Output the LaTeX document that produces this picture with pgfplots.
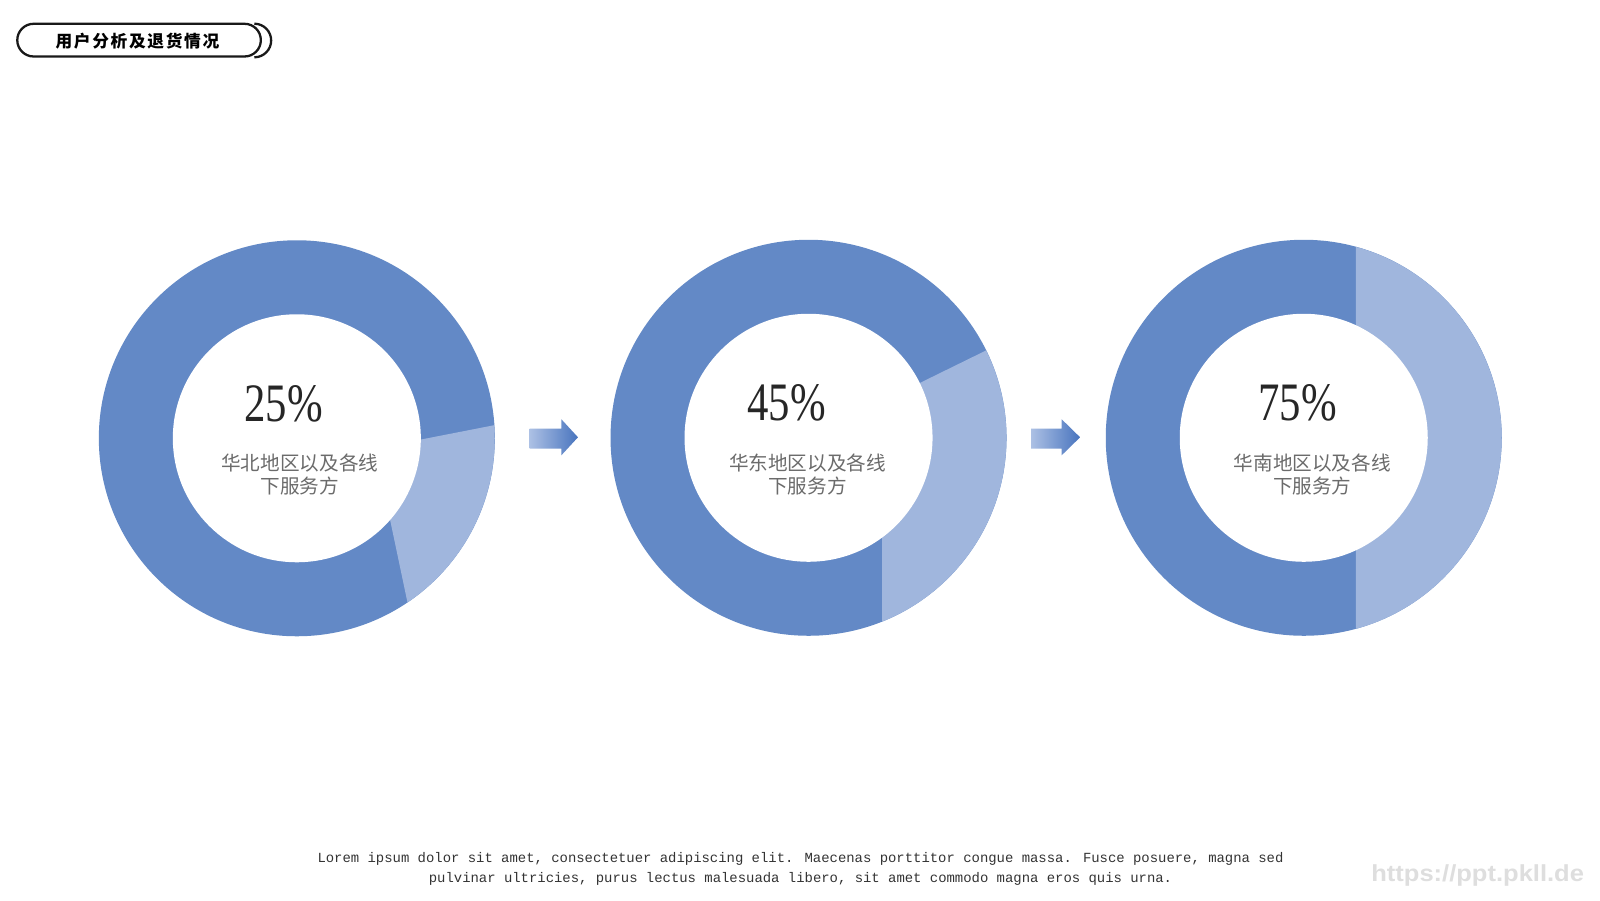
\documentclass[border=0pt]{standalone}
\usepackage{pgfplots}
\pgfplotsset{compat=1.18}
\usepackage{graphicx}
\usepackage{fontspec}
\setmainfont{Liberation Serif}
\newfontfamily\cjk{Noto Sans CJK SC}
\newfontfamily\cjktitle{Noto Sans CJK SC}[LetterSpace=10]
\newfontfamily\mono{Liberation Mono}
\newfontfamily\wm{Liberation Sans}
\definecolor{darkblue}{RGB}{99,137,198}
\definecolor{lightblue}{RGB}{160,182,221}
\definecolor{arrowL}{RGB}{172,192,228}
\definecolor{arrowR}{RGB}{72,116,190}
\begin{document}
\begin{tikzpicture}
\fill[white] (0,0) rectangle (16cm,9cm);
\begin{axis}[at={(0,0)}, anchor=south west, x=0.01cm, y=0.01cm,
  xmin=0, xmax=1600, ymin=0, ymax=900, hide axis, clip=false]
% ---- donut 1 (25%) ----
\fill[darkblue] (axis cs:297,462) circle[radius=1.98cm];
\fill[lightblue] (axis cs:397,456) -- (axis cs:494.6,475.1)
   arc[start angle=3.8, end angle=-56, radius=1.98cm] -- (axis cs:385.3,404.2) -- cycle;
\fill[white] (axis cs:297,462) circle[radius=1.24cm];
% ---- donut 2 (45%) ----
\fill[darkblue] (axis cs:809,462.5) circle[radius=1.98cm];
\fill[lightblue] (axis cs:898.7,506.7) -- (axis cs:986.7,549.9)
   arc[start angle=26.2, end angle=-68.2, radius=1.98cm] -- (axis cs:882.5,382.5) -- cycle;
\fill[white] (axis cs:809,462.5) circle[radius=1.24cm];
% ---- donut 3 (75%) ----
\fill[darkblue] (axis cs:1304.5,462.5) circle[radius=1.98cm];
\fill[lightblue] (axis cs:1356.7,562.5) -- (axis cs:1356.7,653.5)
   arc[start angle=74.7, end angle=-74.7, radius=1.98cm] -- (axis cs:1356.7,362.5) -- cycle;
\fill[white] (axis cs:1304.5,462.5) circle[radius=1.24cm];
% ---- arrows ----
\shade[left color=arrowL, right color=arrowR] (axis cs:530,451.7) -- (axis cs:561.7,451.7) -- (axis cs:561.7,445)
  -- (axis cs:578.3,463) -- (axis cs:561.7,481) -- (axis cs:561.7,471.7) -- (axis cs:530,471.7) -- cycle;
\shade[left color=arrowL, right color=arrowR] (axis cs:1031.7,451.7) -- (axis cs:1062.3,451.7) -- (axis cs:1062.3,445)
  -- (axis cs:1080.7,463) -- (axis cs:1062.3,481) -- (axis cs:1062.3,471.7) -- (axis cs:1031.7,471.7) -- cycle;
% ---- percentages ----
\node[text=black!85, font=\fontsize{15.4}{16}\selectfont, inner sep=0pt] at (axis cs:283.8,496.7) {\scalebox{0.79}[1]{25\%}};
\node[text=black!85, font=\fontsize{15.4}{16}\selectfont, inner sep=0pt] at (axis cs:787,497) {\scalebox{0.79}[1]{45\%}};
\node[text=black!85, font=\fontsize{15.4}{16}\selectfont, inner sep=0pt] at (axis cs:1298.5,497) {\scalebox{0.79}[1]{75\%}};
% ---- descriptions ----
\node[text=black!58, font=\cjk\fontsize{5.58}{6.66}\selectfont, align=center, inner sep=0pt] at (axis cs:300,426) {华北地区以及各线\\下服务方};
\node[text=black!58, font=\cjk\fontsize{5.58}{6.66}\selectfont, align=center, inner sep=0pt] at (axis cs:808,426) {华东地区以及各线\\下服务方};
\node[text=black!58, font=\cjk\fontsize{5.58}{6.66}\selectfont, align=center, inner sep=0pt] at (axis cs:1313,426) {华南地区以及各线\\下服务方};
% ---- title pill ----
\draw[black!90, line width=0.65pt, rounded corners=0.163cm] (axis cs:17.3,844) rectangle (axis cs:261,876.7);
\draw[black!90, line width=0.65pt] (axis cs:254.5,876.8) arc[start angle=90, end angle=-90, radius=0.168cm];
\node[text=black, font=\cjktitle\bfseries\fontsize{4.75}{5}\selectfont, inner sep=0pt] at (axis cs:137.5,859.2) {用户分析及退货情况};
% ---- footer ----
\node[text=black!80, font=\mono\fontsize{3.96}{5.55}\selectfont, align=center, inner sep=0pt] at (axis cs:801,31) 
 {Lorem ipsum dolor sit amet, consectetuer adipiscing elit. Maecenas porttitor congue massa. Fusce posuere, magna sed\\pulvinar ultricies, purus lectus malesuada libero, sit amet commodo magna eros quis urna.};
\node[text=black!13, font=\wm\bfseries\fontsize{6.6}{7}\selectfont, inner sep=0pt] at (axis cs:1478.5,24.5) {\scalebox{1.1}[1]{https://ppt.pkll.de}};
\end{axis}
\pgfresetboundingbox
\path[use as bounding box] (0,0) rectangle (16cm,9cm);
\end{tikzpicture}
\end{document}
